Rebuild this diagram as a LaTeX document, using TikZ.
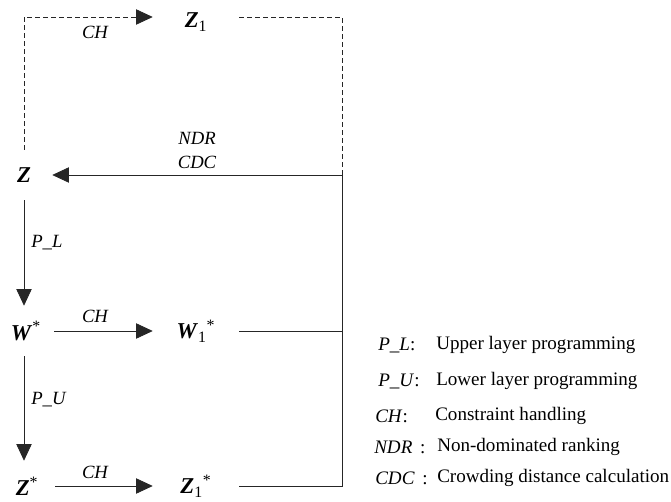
\documentclass[tikz,border=0pt]{standalone}
\usepackage{fontspec}
\setmainfont{Liberation Serif}
\usetikzlibrary{positioning,arrows.meta,calc}
\newcommand{\vb}[1]{\textbf{\textit{#1}}}
\tikzset{
  var/.style={inner sep=0pt, minimum height=37.5pt, font=\fontsize{17}{19}\selectfont},
  varl/.style={var, minimum width=42pt},
  varr/.style={var, minimum width=64.5pt},
  lbl/.style={inner sep=0pt, font=\fontsize{14}{16}\selectfont\itshape},
  leg/.style={inner sep=0pt, anchor=west, font=\fontsize{14.3}{16}\selectfont},
  line/.style={line width=0.6pt, black!85},
  arrow/.style={line, -{Triangle[length=12.5pt, width=11.5pt]}},
  dashline/.style={line, dash pattern=on 3.5pt off 2.5pt}
}

\begin{document}
\begin{tikzpicture}[x=0.75pt, y=-0.75pt]
    \useasboundingbox (0,0) rectangle (671,502);
    % variables
    \node[varl] (Z) at (24,175) {\vb{Z}};
    \node[varl] (W) at (26,331) {\vb{W}\textsuperscript{*}};
    \node[varl] (Zs) at (27,486) {\vb{Z}\textsuperscript{*}};
    \node[varr] (Z1) at (196,22) {\vb{Z}\textsubscript{1}};
    \node[varr] (W1) at (196,331) {\vb{W}\textsubscript{1}\textsuperscript{*}};
    \node[varr] (Z1s) at (196,486) {\vb{Z}\textsubscript{1}\textsuperscript{*}};
    \coordinate (tl) at (24,17);
    \coordinate (tr) at (342,17);
    \coordinate (rt) at (342,175);
    % connectors
    \draw[dashline, arrow] (Z.north) -- (tl) -- (tl -| Z1.west);
    \draw[dashline] (tl -| Z1.east) -- (tr) -- (rt);
    \draw[arrow] (Z1s.east) -| (rt) -- (Z.east);
    \draw[line] (W1.east) -- (W1.east -| rt);
    \draw[arrow] (Z.south) -- (Z.south |- W.north);
    \draw[arrow] (W.south -| Z.south) -- (Z.south |- Zs.north);
    \draw[arrow] (W.east) -- (W1.west);
    \draw[arrow] (Zs.east) -- (Z1s.west);
    % labels
    \node[lbl] (chtop) at (95,32) {CH};
    \node[lbl] (ndr) at (197,138) {NDR};
    \node[lbl] (cdc) at (197,162) {CDC};
    \node[lbl, anchor=west] (pl) at (31,243) {P\_L};
    \node[lbl] (chw) at (95,316) {CH};
    \node[lbl, anchor=west] (pu) at (31,400) {P\_U};
    \node[lbl] (chz) at (95,472) {CH};
    % legend
    \node[leg] (tpl) at (378,345) {\textit{P\_L}:};
    \node[leg] (tpu) at (378,381) {\textit{P\_U}:};
    \node[leg] (tch) at (375,416) {\textit{CH}:};
    \node[leg] (tndr) at (374,447) {\textit{NDR}\hspace{0.4em}:};
    \node[leg] (tcdc) at (375,478) {\textit{CDC}\hspace{0.4em}:};
    \node[leg] (dpl) at (436,345) {Upper layer programming};
    \node[leg] (dpu) at (436,381) {Lower layer programming};
    \node[leg] (dch) at (435,416) {Constraint handling};
    \node[leg] (dndr) at (437,447) {Non-dominated ranking};
    \node[leg] (dcdc) at (437,478) {Crowding distance calculation};
  \end{tikzpicture}
\end{document}
